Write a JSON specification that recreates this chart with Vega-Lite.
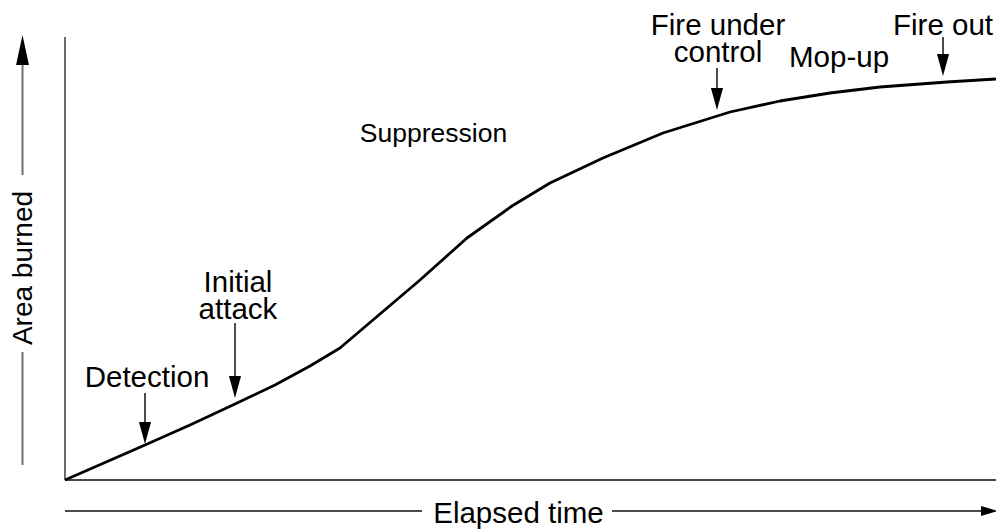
{
  "$schema": "https://vega.github.io/schema/vega-lite/v6.json",
  "width": 996,
  "height": 529,
  "padding": 0,
  "autosize": {"type": "none"},
  "background": "white",
  "config": {"view": {"stroke": null}},
  "datasets": {
    "curve": [
      {"t": 0, "a": 0},
      {"t": 8.593, "a": 7.919},
      {"t": 13.427, "a": 12.443},
      {"t": 18.26, "a": 17.195},
      {"t": 22.556, "a": 21.493},
      {"t": 26.316, "a": 25.792},
      {"t": 29.538, "a": 29.864},
      {"t": 33.835, "a": 37.557},
      {"t": 38.131, "a": 45.249},
      {"t": 43.179, "a": 54.751},
      {"t": 48.013, "a": 61.991},
      {"t": 52.095, "a": 67.195},
      {"t": 57.787, "a": 72.851},
      {"t": 64.232, "a": 78.507},
      {"t": 71.429, "a": 83.258},
      {"t": 76.799, "a": 85.747},
      {"t": 82.17, "a": 87.557},
      {"t": 87.54, "a": 88.914},
      {"t": 94.737, "a": 90.045},
      {"t": 100, "a": 90.724}
    ],
    "grayRules": [
      {"t": 0, "a": 0, "t2": 0, "a2": 100.2},
      {"t": -4.565, "a": 69.0, "t2": -4.565, "a2": 97.3},
      {"t": -4.565, "a": 3.39, "t2": -4.565, "a2": 28.96}
    ],
    "blackRules": [
      {"t": 0, "a": 0, "t2": 100, "a2": 0},
      {"t": 0, "a": -7.01, "t2": 38.35, "a2": -7.01},
      {"t": 58.75, "a": -7.01, "t2": 99.3, "a2": -7.01},
      {"t": 8.593, "a": 19.68, "t2": 8.593, "a2": 10.63},
      {"t": 18.26, "a": 35.52, "t2": 18.26, "a2": 21.04},
      {"t": 70.03, "a": 93.21, "t2": 70.03, "a2": 86.2},
      {"t": 94.31, "a": 100.23, "t2": 94.31, "a2": 93.89}
    ],
    "downHeads": [
      {"t": 8.593, "a": 10.63},
      {"t": 18.26, "a": 21.04},
      {"t": 70.03, "a": 86.2},
      {"t": 94.31, "a": 93.89}
    ],
    "upHead": [{"t": -4.565, "a": 97.29}],
    "rightHead": [{"t": 99.3, "a": -7.01}],
    "labels": [
      {"label": ["Detection"], "t": 8.81, "a": 21.04},
      {"label": ["Initial", "attack"], "t": 18.58, "a": 42.53},
      {"label": ["Fire under", "control"], "t": 70.14, "a": 100.68},
      {"label": ["Mop-up"], "t": 83.14, "a": 93.44},
      {"label": ["Fire out"], "t": 94.31, "a": 100.68},
      {"label": ["Elapsed time"], "t": 48.71, "a": -9.73}
    ],
    "phase": [{"label": "Suppression", "t": 39.58, "a": 76.47}],
    "ytitle": [{"label": "Area burned", "t": -3.545, "a": 47.96}]
  },
  "encoding": {
    "x": {"field": "t", "type": "quantitative", "scale": {"domain": [-6.982, 100], "nice": false, "zero": false}, "axis": null},
    "y": {"field": "a", "type": "quantitative", "scale": {"domain": [-11.086, 108.597], "nice": false, "zero": false}, "axis": null}
  },
  "layer": [
    {
      "data": {"name": "grayRules"},
      "mark": {"type": "rule", "color": "#6e6e6e", "strokeWidth": 2},
      "encoding": {"x2": {"field": "t2"}, "y2": {"field": "a2"}}
    },
    {
      "data": {"name": "blackRules"},
      "mark": {"type": "rule", "color": "#111111", "strokeWidth": 1.5},
      "encoding": {"x2": {"field": "t2"}, "y2": {"field": "a2"}}
    },
    {
      "data": {"name": "curve"},
      "mark": {"type": "line", "color": "black", "strokeWidth": 2.8, "strokeJoin": "round"},
      "encoding": {}
    },
    {
      "data": {"name": "downHeads"},
      "mark": {"type": "point", "shape": "M-0.55,-1L0.55,-1L0,1Z", "size": 484, "filled": true, "color": "black", "opacity": 1, "strokeWidth": 0}
    },
    {
      "data": {"name": "upHead"},
      "mark": {"type": "point", "shape": "M0,-1L0.43,1L-0.43,1Z", "size": 900, "filled": true, "color": "black", "opacity": 1, "strokeWidth": 0}
    },
    {
      "data": {"name": "rightHead"},
      "mark": {"type": "point", "shape": "M-1,-0.6L1,0L-1,0.6Z", "size": 289, "filled": true, "color": "black", "opacity": 1, "strokeWidth": 0}
    },
    {
      "data": {"name": "labels"},
      "mark": {"type": "text", "font": "Liberation Sans", "fontSize": 29.5, "lineHeight": 27, "align": "center", "baseline": "alphabetic", "color": "black"},
      "encoding": {"text": {"field": "label"}}
    },
    {
      "data": {"name": "phase"},
      "mark": {"type": "text", "font": "Liberation Sans", "fontSize": 26.5, "align": "center", "baseline": "alphabetic", "color": "black"},
      "encoding": {"text": {"field": "label"}}
    },
    {
      "data": {"name": "ytitle"},
      "mark": {"type": "text", "font": "Liberation Sans", "fontSize": 28, "align": "center", "baseline": "alphabetic", "angle": 270, "color": "black"},
      "encoding": {"text": {"field": "label"}}
    }
  ]
}
